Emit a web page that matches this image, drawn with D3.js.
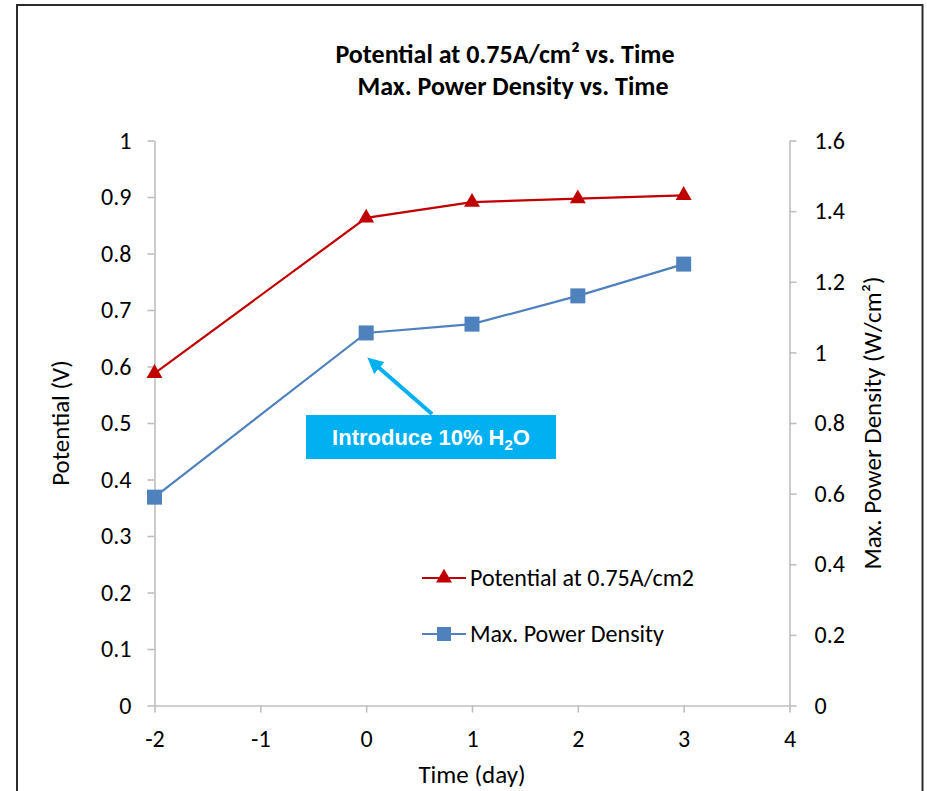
<!DOCTYPE html>
<html>
<head>
<meta charset="utf-8">
<script src="https://cdn.jsdelivr.net/npm/d3@7"></script>
<style>
  html, body { margin: 0; padding: 0; background: #fff; }
  svg { display: block; }
  .lbl { font-family: Carlito, Calibri, Lato, "Open Sans", sans-serif; fill: #000; }
</style>
</head>
<body>
<svg id="chart" width="927" height="791"></svg>
<script>
// Days relative to the water introduction
const days = [-2, 0, 1, 2, 3];
// Cell potential at 0.75 A/cm2 (V), left axis
const potential = [0.588, 0.863, 0.891, 0.897, 0.903];
// Maximum power density (W/cm2), right axis
const powerDensity = [0.59, 1.055, 1.08, 1.16, 1.25];

const xTicks = [-2, -1, 0, 1, 2, 3, 4];
const leftTicks = [0, 0.1, 0.2, 0.3, 0.4, 0.5, 0.6, 0.7, 0.8, 0.9, 1];
const rightTicks = [0, 0.2, 0.4, 0.6, 0.8, 1, 1.2, 1.4, 1.6];

const seriesNames = ["Potential at 0.75A/cm2", "Max. Power Density"];

const svg = d3.select("#chart");
const font = "Carlito, Calibri, Lato, 'Open Sans', sans-serif";

// Outer frame
svg.append("rect")
  .attr("x", 17).attr("y", 5).attr("width", 905.5).attr("height", 800)
  .attr("fill", "#fff").attr("stroke", "#2b2b2b").attr("stroke-width", 2);

const x = d3.scaleLinear().domain([-2, 4]).range([154.5, 789.5]);
const yL = d3.scaleLinear().domain([0, 1]).range([705.5, 140.5]);
const yR = d3.scaleLinear().domain([0, 1.6]).range([705.5, 140.5]);

const axisColor = "#bfbfbf";
function styleAxis(g) {
  g.selectAll("path.domain").attr("stroke", axisColor).attr("stroke-width", 1.6);
  g.selectAll(".tick line").attr("stroke", axisColor).attr("stroke-width", 1.6);
  g.selectAll(".tick text").attr("font-family", font).attr("font-size", 24).attr("fill", "#000");
}

svg.append("g")
  .attr("transform", "translate(0,705.5)")
  .call(d3.axisBottom(x).tickValues(xTicks).tickFormat(d => String(d))
    .tickSize(7).tickSizeOuter(0).tickPadding(17))
  .call(styleAxis);

svg.append("g")
  .attr("transform", "translate(154.5,0)")
  .call(d3.axisLeft(yL).tickValues(leftTicks).tickFormat(d => String(d))
    .tickSize(7).tickSizeOuter(0).tickPadding(16))
  .call(styleAxis);

svg.append("g")
  .attr("transform", "translate(789.5,0)")
  .call(d3.axisRight(yR).tickValues(rightTicks).tickFormat(d => String(d))
    .tickSize(7).tickSizeOuter(0).tickPadding(18))
  .call(styleAxis);

// Titles
const title = svg.append("text").attr("class", "lbl")
  .attr("font-weight", "bold").attr("font-size", 26);
title.append("tspan").attr("x", 505).attr("y", 63).attr("text-anchor", "middle")
  .text("Potential at 0.75A/cm² vs. Time");
title.append("tspan").attr("x", 513).attr("y", 95).attr("text-anchor", "middle")
  .text("Max. Power Density vs. Time");

svg.append("text").attr("class", "lbl")
  .attr("x", 472).attr("y", 783).attr("text-anchor", "middle").attr("font-size", 25)
  .text("Time (day)");

svg.append("text").attr("class", "lbl")
  .attr("transform", "translate(69,423) rotate(-90)")
  .attr("text-anchor", "middle").attr("font-size", 25)
  .text("Potential (V)");

svg.append("text").attr("class", "lbl")
  .attr("transform", "translate(881,423) rotate(-90)")
  .attr("text-anchor", "middle").attr("font-size", 25)
  .text("Max. Power Density (W/cm²)");

// Series
const red = "#c00000", blue = "#4f81bd";
const potPts = days.map((d, i) => [x(d), yL(potential[i])]);
const pwrPts = days.map((d, i) => [x(d), yR(powerDensity[i])]);

svg.append("path").attr("d", d3.line()(potPts))
  .attr("fill", "none").attr("stroke", red).attr("stroke-width", 2.2);
svg.append("path").attr("d", d3.line()(pwrPts))
  .attr("fill", "none").attr("stroke", blue).attr("stroke-width", 2.2);

const tri = d3.symbol().type(d3.symbolTriangle).size(110);
svg.selectAll("path.tri").data(potPts).join("path").attr("class", "tri")
  .attr("transform", d => `translate(${d[0]},${d[1]})`)
  .attr("d", tri()).attr("fill", red);

svg.selectAll("rect.sq").data(pwrPts).join("rect").attr("class", "sq")
  .attr("x", d => d[0] - 7.5).attr("y", d => d[1] - 7.5)
  .attr("width", 15).attr("height", 15).attr("fill", blue);

// Legend
const legend = [
  { name: seriesNames[0], color: red, y: 578, shape: "tri" },
  { name: seriesNames[1], color: blue, y: 634, shape: "sq" }
];
legend.forEach(l => {
  svg.append("line").attr("x1", 422).attr("x2", 466).attr("y1", l.y).attr("y2", l.y)
    .attr("stroke", l.color).attr("stroke-width", 2.2);
  if (l.shape === "tri") {
    svg.append("path").attr("transform", `translate(444,${l.y})`).attr("d", tri()).attr("fill", l.color);
  } else {
    svg.append("rect").attr("x", 437).attr("y", l.y - 7).attr("width", 14).attr("height", 14).attr("fill", l.color);
  }
  svg.append("text").attr("class", "lbl").attr("x", 470).attr("y", l.y + 8)
    .attr("font-size", 24).text(l.name);
});

// Annotation: water introduced at day 0
const cyan = "#00b0f0";
svg.append("defs").append("marker")
  .attr("id", "arrowhead").attr("viewBox", "0 0 10 10")
  .attr("refX", 2).attr("refY", 5)
  .attr("markerWidth", 4).attr("markerHeight", 4)
  .attr("orient", "auto-start-reverse")
  .append("path").attr("d", "M0,0 L10,5 L0,10 Z").attr("fill", cyan);

svg.append("line")
  .attr("x1", 432).attr("y1", 414).attr("x2", 377).attr("y2", 366)
  .attr("stroke", cyan).attr("stroke-width", 4)
  .attr("marker-end", "url(#arrowhead)");

svg.append("rect").attr("x", 306).attr("y", 415).attr("width", 250).attr("height", 44)
  .attr("fill", cyan);
const ann = svg.append("text").attr("x", 431).attr("y", 445)
  .attr("text-anchor", "middle").attr("fill", "#fff")
  .attr("font-family", "'Liberation Sans', Arial, sans-serif")
  .attr("font-weight", "bold").attr("font-size", 22);
ann.append("tspan").text("Introduce 10% H");
ann.append("tspan").attr("dy", 5).attr("font-size", 15).text("2");
ann.append("tspan").attr("dy", -5).text("O");
</script>
</body>
</html>
